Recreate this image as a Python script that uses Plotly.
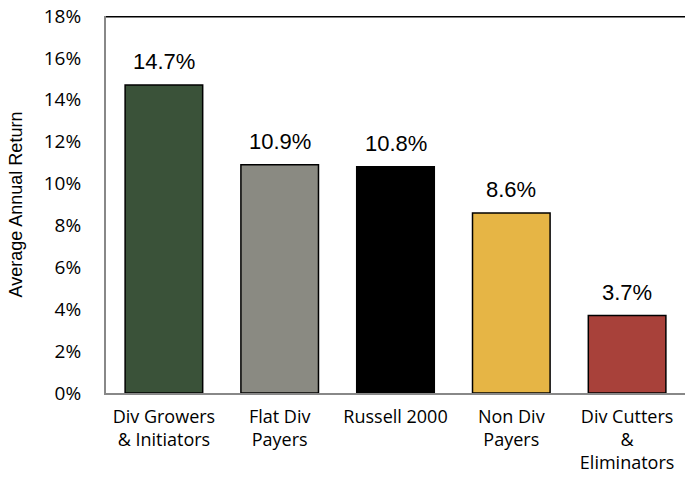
import plotly.graph_objects as go

categories = ["Div Growers<br>& Initiators", "Flat Div<br>Payers", "Russell 2000", "Non Div<br>Payers", "Div Cutters<br>&<br>Eliminators"]
values = [14.7, 10.9, 10.8, 8.6, 3.7]
labels = ["14.7%", "10.9%", "10.8%", "8.6%", "3.7%"]
colors = ["#3A5239", "#8A8A82", "#000000", "#E6B545", "#A8413A"]
tick_vals = [0, 2, 4, 6, 8, 10, 12, 14, 16, 18]
tick_text = ["0%", "2%", "4%", "6%", "8%", "10%", "12%", "14%", "16%", "18%"]

fig = go.Figure(go.Bar(
    x=categories, y=values,
    marker=dict(color=colors, line=dict(color="#000000", width=1.5)),
    width=0.67,
))

for c, v, t in zip(categories, values, labels):
    fig.add_annotation(x=c, y=v, text=t, showarrow=False, yanchor="bottom", yshift=9,
                       font=dict(family="Liberation Sans, Arial", size=22, color="#000000"))

fig.update_layout(
    width=685, height=480,
    margin=dict(l=106, r=0, t=16, b=87),
    paper_bgcolor="white", plot_bgcolor="white",
    showlegend=False,
    font=dict(family="Open Sans, Lato", size=16, color="#000000"),
    xaxis=dict(showgrid=False, showline=True, linecolor="#888888", linewidth=2,
               ticks="", tickfont=dict(size=18), automargin=False, ticklabelstandoff=6),
    yaxis=dict(range=[0, 18], tickvals=tick_vals, ticktext=tick_text,
               showgrid=False, showline=True, linecolor="#888888", linewidth=2,
               ticks="", ticklabelstandoff=19, tickfont=dict(size=19), automargin=False,
               title=dict(text="Average Annual Return", standoff=16,
                          font=dict(family="Liberation Sans, Arial", size=18))),
)
fig.add_shape(type="line", xref="paper", yref="y", x0=0, x1=1, y0=18, y1=18,
              line=dict(color="#000000", width=3))

fig.write_html("out.html", config={"displayModeBar": False},
               post_script="document.body.style.margin='0';")
